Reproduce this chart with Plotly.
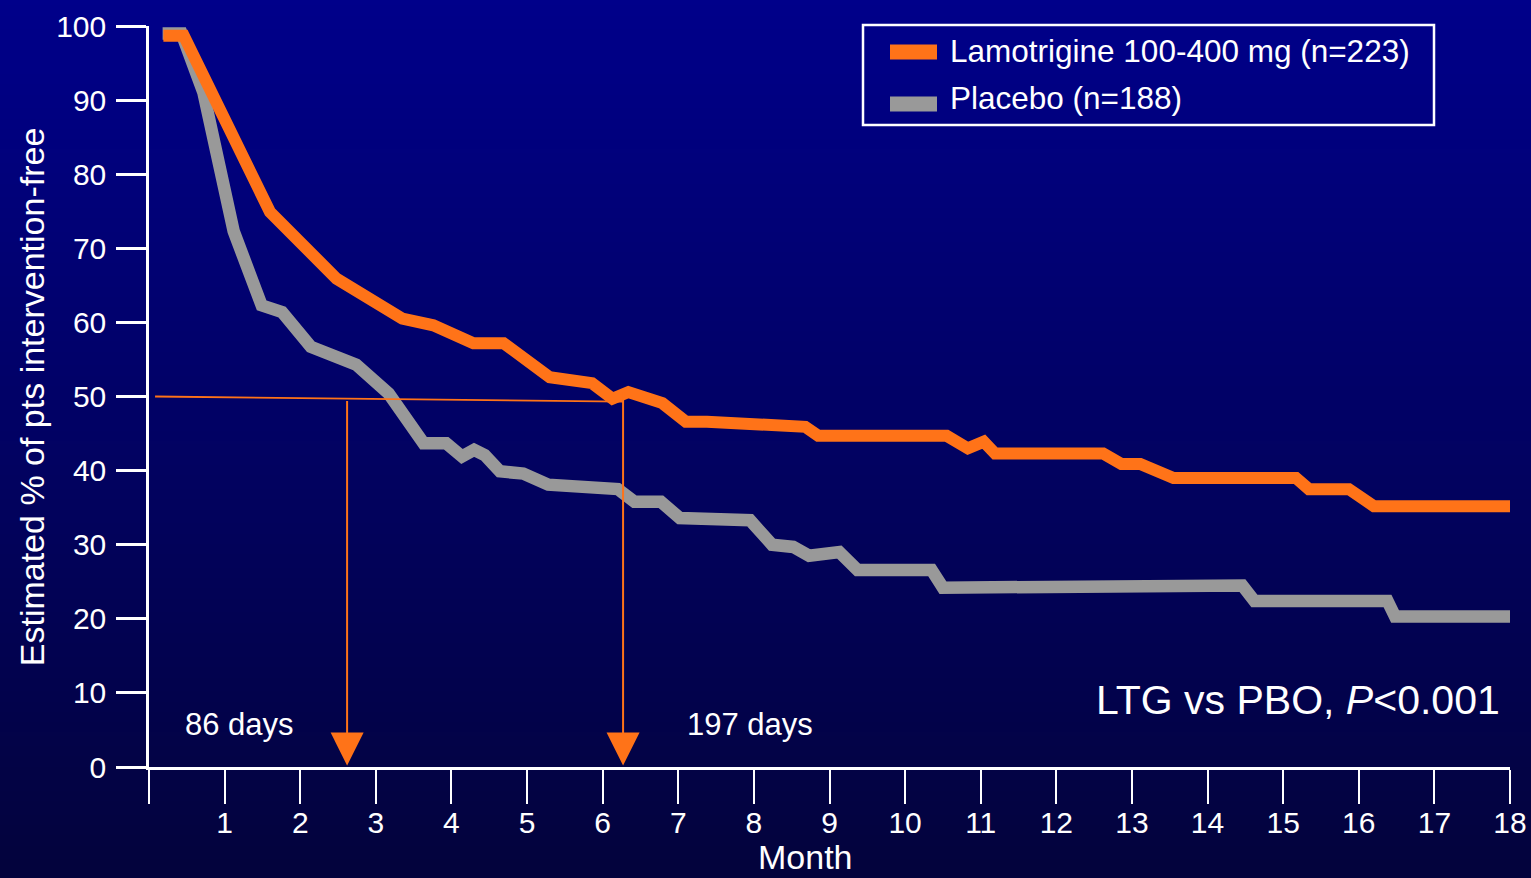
import base64
import struct
import zlib

import plotly.graph_objects as go

# Kaplan-Meier style curves (month, % intervention-free)
ltg_month = [0.19, 0.46, 1.60, 2.48, 3.35, 3.76, 4.29, 4.69, 5.30, 5.86, 6.13, 6.34, 6.79,
             7.10, 7.38, 8.25, 8.68, 8.85, 10.55, 10.83, 11.04, 11.19, 12.62, 12.86, 13.11,
             13.55, 15.17, 15.34, 15.87, 16.20, 18.11]
ltg_pct = [98.7, 98.7, 74.9, 65.9, 60.5, 59.6, 57.2, 57.2, 52.6, 51.8, 49.7, 50.6, 49.1,
           46.6, 46.6, 45.9, 45.9, 44.7, 44.7, 43.0, 43.9, 42.3, 42.3, 40.9, 40.9,
           39.0, 39.0, 37.5, 37.5, 35.2, 35.2]

pbo_month = [0.18, 0.43, 0.72, 1.12, 1.49, 1.76, 2.14, 2.74, 3.17, 3.63, 3.93, 4.14, 4.30,
             4.44, 4.64, 4.95, 5.28, 6.20, 6.42, 6.77, 7.02, 7.95, 8.24, 8.52, 8.73, 9.13,
             9.37, 10.35, 10.50, 14.46, 14.62, 16.38, 16.48, 18.11]
pbo_pct = [99.0, 99.0, 91.0, 72.3, 62.3, 61.4, 56.7, 54.3, 50.4, 43.7, 43.7, 41.9, 42.8,
           42.1, 39.9, 39.6, 38.1, 37.5, 35.8, 35.8, 33.6, 33.3, 30.0, 29.7, 28.5, 29.0,
           26.6, 26.6, 24.2, 24.5, 22.4, 22.4, 20.3, 20.3]

# median guide lines
median_line_x = [0.08, 6.27]
median_line_y = [50.0, 49.3]
median_arrows = [(2.62, 49.6), (6.27, 50.8)]
median_labels = [("86 days", 1.20), ("197 days", 7.95)]

x_ticks = list(range(0, 19))
x_ticktext = [""] + [str(v) for v in range(1, 19)]
y_ticks = list(range(0, 101, 10))

ORANGE = "#ff7318"
GREY = "#999999"
FONT = "Liberation Sans, Arial, sans-serif"

W, H = 1531, 878
L, R, T, B = 149, 21, 26, 111
PW, PH = W - L - R, H - T - B


def gradient_png(height, top, bottom):
    raw = b""
    for i in range(height):
        t = i / (height - 1)
        raw += b"\x00" + bytes(round(a + (c - a) * t) for a, c in zip(top, bottom))

    def chunk(tag, data):
        return struct.pack(">I", len(data)) + tag + data + struct.pack(">I", zlib.crc32(tag + data) & 0xFFFFFFFF)

    png = b"\x89PNG\r\n\x1a\n"
    png += chunk(b"IHDR", struct.pack(">IIBBBBB", 1, height, 8, 2, 0, 0, 0))
    png += chunk(b"IDAT", zlib.compress(raw))
    png += chunk(b"IEND", b"")
    return "data:image/png;base64," + base64.b64encode(png).decode()


def px_x(p):
    return (p - L) / PW


def px_y(p):
    return (H - B - p) / PH


fig = go.Figure()
fig.add_trace(go.Scatter(x=pbo_month, y=pbo_pct, mode="lines", name="Placebo (n=188)",
                         line={"color": GREY, "width": 12.5}))
fig.add_trace(go.Scatter(x=ltg_month, y=ltg_pct, mode="lines", name="Lamotrigine 100-400 mg (n=223)",
                         line={"color": ORANGE, "width": 12}))
fig.add_trace(go.Scatter(x=median_line_x, y=median_line_y, mode="lines",
                         line={"color": ORANGE, "width": 1.8}))

for mx, top_y in median_arrows:
    fig.add_annotation(x=mx, y=0.2, ax=mx, ay=top_y, xref="x", yref="y", axref="x", ayref="y",
                       text="", showarrow=True, arrowhead=2, arrowsize=3.3, arrowwidth=2,
                       arrowcolor=ORANGE, standoff=0, startstandoff=0)

for label, lx in median_labels:
    fig.add_annotation(x=lx, y=5.8, xref="x", yref="y", text=label, showarrow=False,
                       font={"family": FONT, "size": 31, "color": "white"})

fig.add_annotation(x=15.2, y=9.0, xref="x", yref="y", text="LTG vs PBO, <i>P</i><0.001",
                   showarrow=False, font={"family": FONT, "size": 41, "color": "white"})

fig.add_annotation(x=8.68, y=px_y(857), xref="x", yref="paper", text="Month", showarrow=False,
                   yanchor="middle", font={"family": FONT, "size": 34, "color": "white"})
fig.add_annotation(x=px_x(32), y=49.9, xref="paper", yref="y", text="Estimated % of pts intervention-free",
                   textangle=-90, showarrow=False, xanchor="center", yanchor="middle",
                   font={"family": FONT, "size": 34, "color": "white"})

# legend box drawn by hand
fig.add_shape(type="rect", xref="paper", yref="paper", x0=px_x(863), x1=px_x(1434), y0=px_y(125), y1=px_y(25),
              line={"color": "white", "width": 2.5}, fillcolor="rgba(0,0,0,0)")
for name, color, cy, ty in [("Lamotrigine 100-400 mg (n=223)", ORANGE, 52, 51),
                            ("Placebo (n=188)", GREY, 104, 98)]:
    fig.add_shape(type="rect", xref="paper", yref="paper", x0=px_x(890), x1=px_x(937),
                  y0=px_y(cy + 7.5), y1=px_y(cy - 7.5), line={"width": 0}, fillcolor=color)
    fig.add_annotation(x=px_x(948), y=px_y(ty), xref="paper", yref="paper",
                       text=name, showarrow=False, xanchor="left", yanchor="middle",
                       font={"family": FONT, "size": 31.5, "color": "white"})

fig.add_layout_image(source=gradient_png(256, (0, 0, 138), (3, 3, 60)), xref="paper", yref="paper",
                     x=-L / PW, y=1 + T / PH, sizex=W / PW, sizey=H / PH, sizing="stretch",
                     xanchor="left", yanchor="top", layer="below")

fig.update_xaxes(range=[0, 18], tickvals=x_ticks, ticktext=x_ticktext, showgrid=False, zeroline=False,
                 showline=True, linecolor="white", linewidth=3, ticks="outside", ticklen=34, tickwidth=2,
                 tickcolor="white", ticklabelstandoff=-7, automargin=False,
                 tickfont={"family": FONT, "size": 30, "color": "white"})
fig.update_yaxes(range=[0, 100], tickvals=y_ticks, showgrid=False, zeroline=False,
                 showline=True, linecolor="white", linewidth=2.5, ticks="outside", ticklen=30, tickwidth=2.5,
                 tickcolor="white", ticklabelstandoff=4, automargin=False,
                 tickfont={"family": FONT, "size": 30, "color": "white"})

fig.update_layout(width=W, height=H, margin={"l": L, "r": R, "t": T, "b": B},
                  paper_bgcolor="#000050", plot_bgcolor="rgba(0,0,0,0)", showlegend=False)

fig.write_html("out.html", config={"displayModeBar": False},
               post_script="document.body.style.margin='0';")
